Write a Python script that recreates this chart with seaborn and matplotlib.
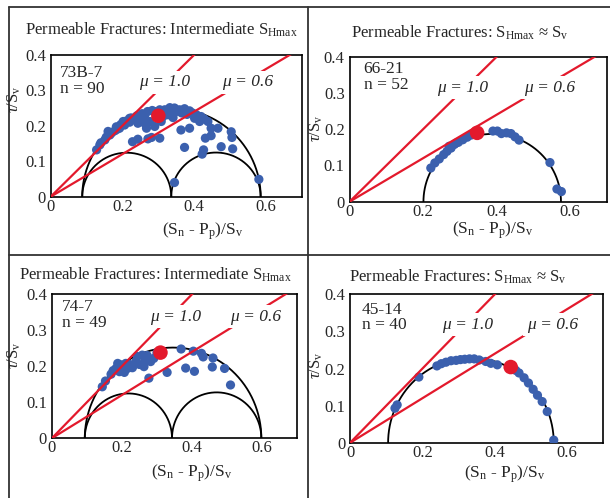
import numpy as np
import pandas as pd
import matplotlib
matplotlib.use("Agg")
import matplotlib.pyplot as plt
import seaborn as sns
from matplotlib.lines import Line2D

# panel titles and well labels
titles = ["Permeable Fractures: Intermediate S$_{\\rm Hmax}$",
          "Permeable Fractures: S$_{\\rm Hmax}$ \u2248 S$_{\\rm v}$",
          "Permeable Fractures: Intermediate S$_{\\rm Hmax}$",
          "Permeable Fractures: S$_{\\rm Hmax}$ \u2248 S$_{\\rm v}$"]
wells = ["73B-7\nn = 90", "66-21\nn = 52", "74-7\nn = 49", "45-14\nn = 40"]

# normalised principal stresses (S3, S2, S1) for the Mohr circles
s3 = [0.088, 0.201, 0.094, 0.105]
s2 = [0.336, None, 0.343, None]
s1 = [0.585, 0.575, 0.598, 0.563]

# friction coefficients
mu = [1.0, 0.6]

# mean fracture (red dot)
red_x = [0.300, 0.347, 0.310, 0.444]
red_y = [0.228, 0.190, 0.238, 0.204]

# permeable fractures, well 73B-7
p1_x = [0.128, 0.137, 0.151, 0.160, 0.165, 0.179, 0.183, 0.192, 0.202, 0.206, 0.220, 0.220,
        0.234, 0.243, 0.248, 0.262, 0.262, 0.267, 0.276, 0.290, 0.290, 0.304, 0.308, 0.313,
        0.318, 0.327, 0.332, 0.341, 0.345, 0.359, 0.373, 0.387, 0.401, 0.406, 0.415, 0.419,
        0.428, 0.363, 0.387, 0.438, 0.447, 0.466, 0.503, 0.505, 0.447, 0.431, 0.373, 0.426,
        0.422, 0.475, 0.507, 0.228, 0.243, 0.271, 0.281, 0.304, 0.345, 0.580,
        0.140, 0.155, 0.170, 0.185, 0.195, 0.210, 0.225, 0.240, 0.255, 0.270, 0.283, 0.325,
        0.350, 0.365, 0.380, 0.395]
p1_y = [0.132, 0.146, 0.160, 0.184, 0.174, 0.186, 0.197, 0.193, 0.212, 0.202, 0.210, 0.221,
        0.217, 0.207, 0.221, 0.229, 0.207, 0.193, 0.212, 0.240, 0.198, 0.245, 0.212, 0.226,
        0.245, 0.231, 0.251, 0.223, 0.250, 0.245, 0.248, 0.242, 0.221, 0.231, 0.212, 0.226,
        0.219, 0.188, 0.193, 0.212, 0.193, 0.193, 0.183, 0.167, 0.172, 0.165, 0.139, 0.132,
        0.120, 0.141, 0.135, 0.155, 0.162, 0.163, 0.167, 0.165, 0.040, 0.049,
        0.152, 0.168, 0.180, 0.190, 0.203, 0.213, 0.222, 0.228, 0.234, 0.240, 0.243, 0.240,
        0.240, 0.236, 0.232, 0.236]

# well 66-21
p2_x = [0.221, 0.232, 0.244, 0.256, 0.265, 0.271, 0.276, 0.285, 0.290, 0.296, 0.308, 0.320,
        0.331, 0.390, 0.402, 0.413, 0.427, 0.439, 0.450, 0.461, 0.545, 0.564, 0.576]
p2_y = [0.093, 0.107, 0.118, 0.130, 0.139, 0.153, 0.148, 0.158, 0.162, 0.164, 0.171, 0.178,
        0.184, 0.195, 0.195, 0.188, 0.190, 0.188, 0.179, 0.170, 0.108, 0.035, 0.028]

# well 74-7
p3_x = [0.144, 0.153, 0.169, 0.183, 0.188, 0.193, 0.197, 0.207, 0.211, 0.216, 0.230, 0.240,
        0.244, 0.258, 0.263, 0.267, 0.277, 0.282, 0.291, 0.329, 0.369, 0.382, 0.404, 0.407,
        0.427, 0.432, 0.458, 0.460, 0.493, 0.510, 0.175, 0.222, 0.250, 0.272, 0.300]
p3_y = [0.143, 0.159, 0.178, 0.194, 0.208, 0.185, 0.204, 0.183, 0.208, 0.194, 0.196, 0.213,
        0.227, 0.231, 0.199, 0.217, 0.167, 0.213, 0.222, 0.183, 0.248, 0.195, 0.242, 0.186,
        0.236, 0.226, 0.198, 0.223, 0.194, 0.148, 0.188, 0.205, 0.205, 0.230, 0.238]

# well 45-14
p4_x = [0.124, 0.130, 0.190, 0.240, 0.252, 0.265, 0.279, 0.293, 0.305, 0.317, 0.330, 0.343,
        0.357, 0.375, 0.389, 0.407, 0.458, 0.467, 0.481, 0.493, 0.506, 0.518, 0.531, 0.545,
        0.563]
p4_y = [0.093, 0.102, 0.177, 0.207, 0.213, 0.217, 0.221, 0.222, 0.224, 0.225, 0.226, 0.226,
        0.223, 0.219, 0.214, 0.210, 0.195, 0.188, 0.175, 0.161, 0.144, 0.128, 0.111, 0.084,
        0.007]

pts_x = [p1_x, p2_x, p3_x, p4_x]
pts_y = [p1_y, p2_y, p3_y, p4_y]

sns.set_theme(style="white")
plt.rcParams["font.family"] = ["Liberation Serif", "DejaVu Serif"]
plt.rcParams["mathtext.fontset"] = "custom"
plt.rcParams["mathtext.rm"] = "Liberation Serif"
plt.rcParams["mathtext.it"] = "Liberation Serif:italic"

BLUE = "#3b60ae"
RED = "#e3192c"

fig = plt.figure(figsize=(6.1, 4.98), dpi=100)

# axes boxes in figure fraction
boxes = [[0.083, 0.605, 0.412, 0.285],
         [0.573, 0.595, 0.422, 0.291],
         [0.085, 0.120, 0.402, 0.289],
         [0.574, 0.111, 0.415, 0.298]]
title_pos = [(0.264, 0.940), (0.754, 0.934), (0.254, 0.448), (0.750, 0.444)]
xlab_pos = [(0.333, 0.536), (0.807, 0.538), (0.315, 0.050), (0.828, 0.048)]
ylab_pos = [(0.024, 0.800), (0.519, 0.743), (0.024, 0.287), (0.519, 0.267)]
well_pos = [(0.026, 0.370), (0.038, 0.387), (0.029, 0.386), (0.033, 0.380)]
mu_pos = [[(0.317, 0.322), (0.549, 0.322)],
          [(0.308, 0.315), (0.545, 0.315)],
          [(0.352, 0.338), (0.582, 0.338)],
          [(0.325, 0.318), (0.559, 0.318)]]

theta = np.linspace(0, np.pi, 300)

def semicircle(ax, a, b):
    c, r = (a + b) / 2, (b - a) / 2
    ax.plot(c + r * np.cos(theta), r * np.sin(theta), color="black", lw=1.3, zorder=2)

for i in range(4):
    ax = fig.add_axes(boxes[i])
    ax.set_xlim(0, 0.7)
    ax.set_ylim(0, 0.4)

    # Mohr circles
    semicircle(ax, s3[i], s1[i])
    if s2[i] is not None:
        semicircle(ax, s3[i], s2[i])
        semicircle(ax, s2[i], s1[i])

    df = pd.DataFrame({"sn": pts_x[i], "tau": pts_y[i]})
    sns.scatterplot(data=df, x="sn", y="tau", ax=ax, s=44, color=BLUE,
                    edgecolor="none", linewidth=0, zorder=3, legend=False)

    # friction lines
    xs = np.array([0, 0.7])
    for j, m in enumerate(mu):
        ax.plot(xs, m * xs, color=RED, lw=1.6, zorder=4, solid_capstyle="butt")
        ax.text(mu_pos[i][j][0], mu_pos[i][j][1], f"\u03bc = {m:.1f}", style="italic",
                fontsize=12.5, ha="center", va="center", zorder=5,
                bbox=dict(facecolor="white", edgecolor="none", pad=2.5))

    sns.scatterplot(x=[red_x[i]], y=[red_y[i]], ax=ax, s=110, color=RED,
                    edgecolor="none", linewidth=0, zorder=6, legend=False)

    ax.text(well_pos[i][0], well_pos[i][1], wells[i], fontsize=12.5, ha="left", va="top",
            linespacing=0.95, zorder=7)

    ax.set_xticks([0, 0.2, 0.4, 0.6])
    ax.set_yticks([0, 0.1, 0.2, 0.3, 0.4])
    ax.set_xticklabels(["0", "0.2", "0.4", "0.6"])
    ax.set_yticklabels(["0", "0.1", "0.2", "0.3", "0.4"])
    ax.tick_params(axis="x", direction="in", length=4, width=1, labelsize=12, pad=1.5, color="black")
    ax.tick_params(axis="y", direction="out", length=3, width=1, labelsize=12, pad=0.5, color="black")
    ax.set_xlabel("")
    ax.set_ylabel("")
    for sp in ax.spines.values():
        sp.set_color("black")
        sp.set_linewidth(1.2)

    fig.text(title_pos[i][0], title_pos[i][1], titles[i], fontsize=12, ha="center", va="center")
    fig.text(xlab_pos[i][0], xlab_pos[i][1], "(S$_{\\rm n}$ - P$_{\\rm p}$)/S$_{\\rm v}$",
             fontsize=12.5, ha="center", va="center")
    fig.text(ylab_pos[i][0], ylab_pos[i][1], "$\\tau$/S$_{\\rm v}$", fontsize=12,
             ha="center", va="center", rotation=90)

# panel frame lines
frame = dict(color="#333333", lw=1.3, transform=fig.transFigure)
fig.add_artist(Line2D([0.015, 0.015], [0, 0.986], **frame))
fig.add_artist(Line2D([0.505, 0.505], [0, 0.986], **frame))
fig.add_artist(Line2D([0.015, 1.0], [0.986, 0.986], **frame))
fig.add_artist(Line2D([0.015, 1.0], [0.488, 0.488], **frame))

fig.savefig("out.png", dpi=100)
